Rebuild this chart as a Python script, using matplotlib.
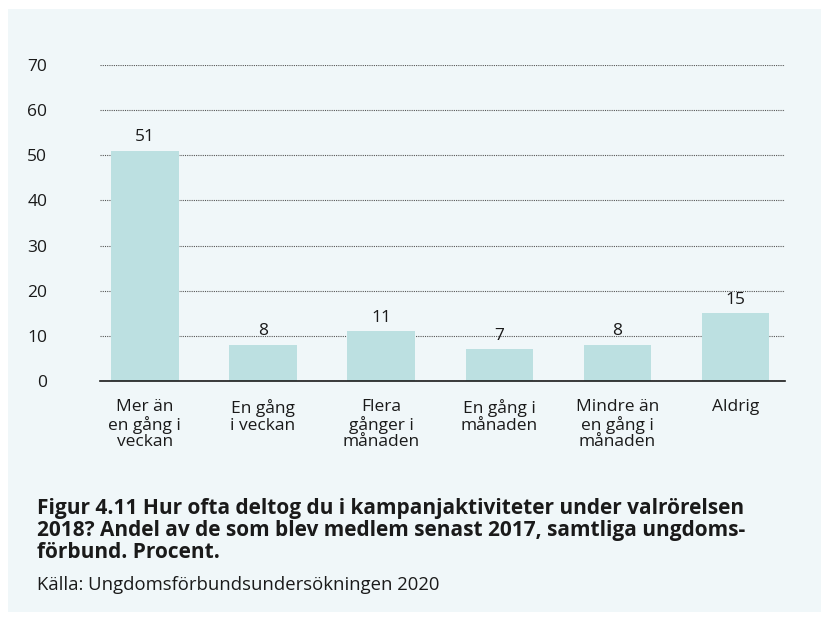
import matplotlib
matplotlib.use("Agg")
import matplotlib.pyplot as plt
from matplotlib.patches import Rectangle

categories = ["Mer än\nen gång i\nveckan", "En gång\ni veckan", "Flera\ngånger i\nmånaden",
              "En gång i\nmånaden", "Mindre än\nen gång i\nmånaden", "Aldrig"]
values = [51, 8, 11, 7, 8, 15]
yticks = [0, 10, 20, 30, 40, 50, 60, 70]
title = ("Figur 4.11 Hur ofta deltog du i kampanjaktiviteter under valrörelsen\n"
         "2018? Andel av de som blev medlem senast 2017, samtliga ungdoms-\n"
         "förbund. Procent.")
source = "Källa: Ungdomsförbundsundersökningen 2020"

plt.rcParams['font.family'] = ['Open Sans', 'DejaVu Sans']

W, H = 829, 620
fig = plt.figure(figsize=(W/100, H/100), dpi=100)
fig.patch.set_facecolor("white")
bg = "#f0f7f9"
fig.patches.append(Rectangle((8/W, 1-612/H), (821-8)/W, (612-9)/H,
                             transform=fig.transFigure, facecolor=bg, edgecolor="none", zorder=-10))

ax = fig.add_axes([100/W, 1-381/H, (785-100)/W, (381-65)/H])
ax.set_facecolor("none")
x = list(range(len(values)))
ax.bar(x, values, width=0.57, color="#bce0e1", zorder=2)
for xi, v in zip(x, values):
    ax.text(xi, v + 1.2, str(v), ha="center", va="bottom", fontsize=12.5, color="#1a1a1a")
ax.set_xlim(-0.38, 5.42)
ax.set_ylim(0, 70)
ax.set_yticks(yticks)
ax.set_yticklabels([str(t) for t in yticks], fontsize=12.5, color="#1a1a1a")
ax.set_xticks(x)
ax.set_xticklabels(categories, fontsize=12.5, color="#1a1a1a", linespacing=1.05)
ax.tick_params(axis="both", length=0)
ax.tick_params(axis="y", pad=38)
ax.tick_params(axis="x", pad=13)
for s in ["top", "right", "left"]:
    ax.spines[s].set_visible(False)
ax.spines["bottom"].set_color("#1a1a1a")
ax.spines["bottom"].set_linewidth(1.2)
ax.spines["bottom"].set_zorder(3)
ax.yaxis.grid(True, linestyle=(0, (1, 1)), color="#555555", linewidth=0.8, zorder=1)
ax.set_axisbelow(True)

fig.text(37/W, 1-498/H, title, ha="left", va="top", fontsize=15, fontweight="bold",
         color="#1a1a1a", linespacing=1.06)
fig.text(37/W, 1-576/H, source, ha="left", va="top", fontsize=13.3, color="#1a1a1a")

fig.savefig("out.png", dpi=100, facecolor="white")
